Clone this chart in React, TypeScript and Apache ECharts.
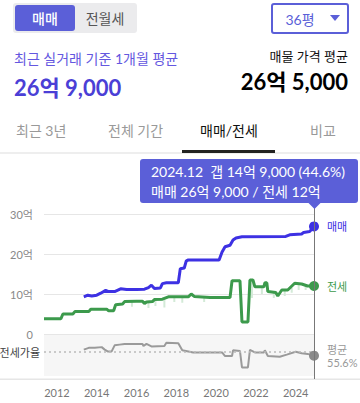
import React, { useEffect, useRef } from 'react';
import * as echarts from 'echarts';

const FONT = "Lato, 'Noto Sans CJK KR', sans-serif";
const PURPLE = '#5b5fd8';
const BLUE = '#3d31e3';
const GREEN = '#3c9a4c';
const GRAY_LINE = '#9a9a9a';

// 매매 (sale) monthly average, 억
const maemaeDates = [2013.35, 2013.55, 2013.75, 2014.0, 2014.2, 2014.45, 2014.6, 2014.9, 2015.2, 2015.5, 2016.0, 2016.4, 2016.6, 2016.75, 2016.9, 2017.2, 2017.3, 2017.5, 2018.1, 2018.2, 2018.4, 2018.5, 2018.6, 2020.15, 2020.3, 2020.45, 2020.7, 2020.85, 2021.0, 2021.3, 2023.5, 2023.7, 2024.3, 2024.4, 2024.7, 2024.8, 2024.92];
const maemaeValues = [9.3, 9.7, 9.5, 9.7, 10.2, 10.9, 10.6, 10.6, 11.3, 11.1, 11.1, 11.2, 11.6, 12.2, 11.4, 11.5, 12.6, 12.8, 12.8, 16.3, 16.5, 18.3, 18.5, 18.5, 20.5, 21.8, 22.2, 23.5, 24.0, 24.3, 24.4, 24.8, 25.0, 25.4, 25.6, 26.2, 26.9];

// 전세 (jeonse) monthly average, 억
const jeonseDates = [2011.35, 2012.2, 2012.3, 2012.8, 2012.9, 2013.6, 2013.7, 2014.5, 2014.6, 2014.85, 2014.95, 2015.3, 2015.4, 2016.0, 2016.3, 2016.4, 2016.5, 2016.8, 2016.9, 2017.3, 2017.6, 2018.6, 2018.75, 2018.9, 2019.7, 2020.7, 2020.8, 2021.2, 2021.3, 2021.6, 2021.7, 2021.85, 2021.95, 2022.4, 2022.45, 2022.55, 2022.6, 2023.0, 2023.1, 2023.3, 2023.6, 2023.95, 2024.3, 2024.6, 2024.92];
const jeonseValues = [3.8, 3.8, 5.0, 5.0, 5.6, 5.6, 6.2, 6.2, 5.8, 5.8, 7.3, 7.5, 8.1, 8.2, 8.2, 7.6, 8.0, 8.1, 8.6, 8.7, 9.3, 9.3, 10.0, 9.4, 9.1, 9.1, 13.3, 13.3, 3.0, 3.0, 13.5, 13.5, 11.8, 11.8, 12.8, 12.8, 10.6, 10.4, 9.5, 11.0, 11.0, 12.7, 12.5, 12.0, 12.0];

// 전세 individual low transactions (faint spikes)
const spikeDates = [2015.77, 2016.6, 2016.95, 2017.4, 2017.9, 2018.3, 2019.4, 2021.8, 2022.3, 2022.9, 2023.45, 2023.8, 2024.15, 2024.5];
const spikeTops = [8.1, 8.0, 8.6, 8.7, 9.3, 9.3, 9.2, 13.5, 11.8, 10.5, 11.0, 11.5, 12.6, 12.2];
const spikeBottoms = [6.8, 6.5, 7.0, 6.6, 8.0, 7.8, 8.0, 9.0, 10.0, 9.0, 9.5, 10.3, 11.0, 11.0];

// 전세가율 (%)
const ratioDates = [2013.35, 2013.6, 2013.9, 2014.25, 2014.4, 2014.55, 2014.75, 2014.9, 2015.15, 2015.4, 2016.3, 2016.35, 2016.5, 2016.75, 2017.4, 2017.5, 2018.1, 2018.3, 2018.85, 2020.3, 2020.45, 2020.8, 2020.85, 2021.2, 2021.3, 2021.6, 2021.7, 2021.95, 2022.4, 2022.45, 2022.6, 2023.2, 2023.55, 2024.0, 2024.3, 2024.6, 2024.92];
const ratioValues = [62, 67, 67, 69, 62, 57, 57, 74, 76, 78, 78, 72, 78, 71, 72, 81, 80, 60, 54, 54, 44, 44, 60, 58, 12, 12, 61, 54, 54, 60, 44, 42, 48, 56, 52, 50, 45];
const ratioAverage = 55.6;

const yearTicks = [2012, 2014, 2016, 2018, 2020, 2022, 2024];
const priceTicks = [0, 10, 20, 30];

const tabs = ['최근 3년', '전체 기간', '매매/전세', '비교'];
const recentAvg = 26.9;
const listingAvg = 26.5;
const sizeLabel = '36평';
const lastMonthLabel = '2024.12';

function fmtEok(v: number): string {
  const eok = Math.floor(v + 1e-9);
  const man = Math.round((v - eok) * 10000);
  return man ? `${eok}억 ${man.toLocaleString('en-US')}` : `${eok}억`;
}

function pairs(xs: number[], ys: number[]) {
  return xs.map((x, i) => [x, ys[i]]);
}

export default function App() {
  const ref = useRef<HTMLDivElement>(null);
  useEffect(() => {
    document.body.style.margin = '0';
    if (!ref.current) return;
    const chart = echarts.init(ref.current, undefined, { renderer: 'svg' });
    const xMin = 2011.35;
    const xMax = maemaeDates[maemaeDates.length - 1];
    const lastM = maemaeValues[maemaeValues.length - 1];
    const lastJ = jeonseValues[jeonseValues.length - 1];
    const lastR = ratioValues[ratioValues.length - 1];

    const spikeData: any[] = [];
    spikeDates.forEach((d, i) => {
      spikeData.push([d, spikeTops[i]], [d, spikeBottoms[i]], [d, '-']);
    });

    chart.setOption({
      animation: false,
      textStyle: { fontFamily: FONT },
      grid: [
        { left: 44, width: 270, top: 214, height: 120 },
        { left: 44, width: 270, top: 335, height: 41, show: true, backgroundColor: '#f6f6f6', borderWidth: 0 },
      ],
      xAxis: [
        { type: 'value', gridIndex: 0, min: xMin, max: xMax, show: false, splitLine: { show: false } },
        {
          type: 'value', gridIndex: 1, min: xMin, max: xMax,
          axisLine: { show: false }, axisTick: { show: false }, splitLine: { show: false },
          axisLabel: { customValues: yearTicks, formatter: (v: number) => String(v), color: '#777', fontSize: 11, margin: 11, fontFamily: FONT },
        },
      ],
      yAxis: [
        {
          type: 'value', gridIndex: 0, min: priceTicks[0], max: priceTicks[priceTicks.length - 1], interval: 10,
          axisLine: { show: false }, axisTick: { show: false },
          splitLine: { lineStyle: { color: '#e6e6e6', width: 1 } },
          axisLabel: { formatter: (v: number) => (v === 0 ? '0' : `${v}억`), color: '#888', fontSize: 11, margin: 11, fontFamily: FONT },
        },
        { type: 'value', gridIndex: 1, min: -12, max: 103, show: false, splitLine: { show: false } },
      ],
      series: [
        {
          name: 'spikes', type: 'line', xAxisIndex: 0, yAxisIndex: 0, data: spikeData,
          showSymbol: false, connectNulls: false, lineStyle: { color: '#d3ead7', width: 2 }, z: 1,
        },
        {
          name: '전세', type: 'line', xAxisIndex: 0, yAxisIndex: 0, data: pairs(jeonseDates, jeonseValues),
          showSymbol: false, lineStyle: { color: GREEN, width: 3 }, itemStyle: { color: GREEN }, z: 2,
        },
        {
          name: '매매', type: 'line', xAxisIndex: 0, yAxisIndex: 0, data: pairs(maemaeDates, maemaeValues),
          showSymbol: false, lineStyle: { color: BLUE, width: 3 }, itemStyle: { color: BLUE }, z: 3,
        },
        {
          name: 'ends', type: 'scatter', xAxisIndex: 0, yAxisIndex: 0, symbolSize: 10, z: 5,
          data: [
            { value: [xMax, lastM], itemStyle: { color: BLUE, opacity: 1 }, label: { formatter: '매매', color: BLUE } },
            { value: [xMax, lastJ], itemStyle: { color: GREEN, opacity: 1 }, label: { formatter: '전세', color: GREEN } },
          ],
          itemStyle: { opacity: 1 },
          label: { show: true, position: 'right', distance: 8, fontSize: 11, fontFamily: FONT },
        },
        {
          name: '전세가율', type: 'line', xAxisIndex: 1, yAxisIndex: 1, data: pairs(ratioDates, ratioValues),
          showSymbol: false, lineStyle: { color: GRAY_LINE, width: 2 },
          markLine: {
            silent: true, symbol: 'none', label: { show: false },
            lineStyle: { color: '#bbb', type: [2, 3], width: 1.5 },
            data: [{ yAxis: ratioAverage }],
          },
        },
        {
          name: 'ratioEnd', type: 'scatter', xAxisIndex: 1, yAxisIndex: 1, symbolSize: 10, z: 5,
          itemStyle: { color: '#8a8a8a', opacity: 1 },
          data: [[xMax, lastR]],
          label: {
            show: true, position: 'right', distance: 8, formatter: `평균\n${ratioAverage}%`,
            color: '#999', fontSize: 11, lineHeight: 13, fontFamily: FONT, align: 'left',
          },
        },
      ],
    });

    const lineX = Math.round((chart.convertToPixel({ gridIndex: 0 }, [xMax, 0]) as number[])[0]) + 0.5;
    const gap = lastM - lastJ;
    const pct = ((lastJ / lastM) * 100).toFixed(1);
    const txt = (text: string, x: number, y: number, fill: string, size: number, align = 'left', weight: any = 'normal') => ({
      type: 'text', z: 100,
      style: { text, x, y, fill, fontSize: size, fontFamily: FONT, fontWeight: weight, textAlign: align, textVerticalAlign: 'middle' },
    });
    const tabX = [16, 108, 200, 310];

    chart.setOption({
      graphic: [
        { type: 'rect', shape: { x: 13, y: 3, width: 124, height: 30, r: 3 }, style: { fill: '#ebebed' } },
        { type: 'rect', shape: { x: 15, y: 5, width: 60, height: 26, r: 3 }, style: { fill: PURPLE } },
        txt('매매', 45, 18, '#fff', 14, 'center', 500),
        txt('전월세', 105, 18, '#555', 14, 'center'),
        { type: 'rect', shape: { x: 272, y: 4, width: 76, height: 29, r: 2 }, style: { fill: '#fff', stroke: PURPLE, lineWidth: 2 } },
        txt(sizeLabel, 300, 19, PURPLE, 14, 'center'),
        { type: 'polygon', shape: { points: [[330, 15], [340, 15], [335, 21]] }, style: { fill: PURPLE } },
        txt('최근 실거래 기준 1개월 평균', 14, 58, '#6457e0', 14),
        txt(fmtEok(recentAvg), 14, 87, '#4b3fd6', 22, 'left', 'bold'),
        txt('매물 가격 평균', 348, 56, '#111', 13, 'right'),
        txt(fmtEok(listingAvg), 348, 81, '#000', 22, 'right', 'bold'),
        ...tabs.map((t, i) => txt(t, tabX[i], 130, i === 2 ? '#111' : '#999', 14)),
        { type: 'rect', shape: { x: 0, y: 152.5, width: 360, height: 1 }, style: { fill: '#dddddd' } },
        { type: 'rect', shape: { x: 182, y: 150, width: 93, height: 3 }, style: { fill: '#222' } },
        { type: 'line', z: 50, shape: { x1: lineX, y1: 208, x2: lineX, y2: 379 }, style: { stroke: '#777', lineWidth: 1 } },
        { type: 'rect', z: 90, shape: { x: 140, y: 159, width: 218, height: 44, r: 3 }, style: { fill: PURPLE } },
        { type: 'polygon', z: 90, shape: { points: [[lineX - 6, 203], [lineX + 6, 203], [lineX, 209]] }, style: { fill: PURPLE } },
        txt(`${lastMonthLabel}  갭 ${fmtEok(gap)} (${pct}%)`, 151, 171, '#fff', 14),
        txt(`매매 ${fmtEok(lastM)} / 전세 ${fmtEok(lastJ)}`, 151, 191, '#fff', 14),
        txt('전세가율', 40, 352, '#444', 11, 'right'),
        { type: 'rect', shape: { x: 0, y: 378.5, width: 360, height: 1.5 }, style: { fill: '#e6e6e6' } },
      ],
    });

    return () => chart.dispose();
  }, []);
  return <div ref={ref} style={{ width: 360, height: 403 }} />;
}
